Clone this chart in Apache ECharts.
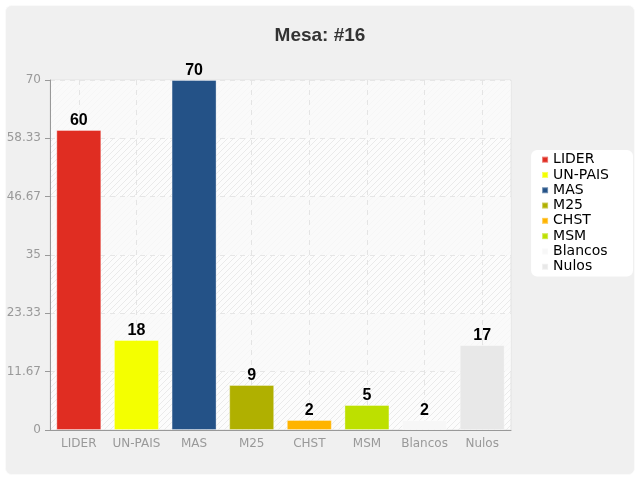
<!DOCTYPE html>
<html>
<head>
<meta charset="utf-8">
<script src="https://cdn.jsdelivr.net/npm/echarts@6/dist/echarts.min.js"></script>
<style>
html,body{margin:0;padding:0;background:#fff;}
#c{width:640px;height:480px;}
</style>
</head>
<body>
<div id="c"></div>
<script>
const categories = ['LIDER','UN-PAIS','MAS','M25','CHST','MSM','Blancos','Nulos'];
const values = [60, 18, 70, 9, 2, 5, 2, 17];
const colors = ['#e02d22','#f4ff00','#245287','#b0b000','#ffb400','#bde000','#f7f7f7','#e8e8e8'];
const yTicks = [0, 11.67, 23.33, 35, 46.67, 58.33, 70];

// hatch pattern for plot background
const pc = document.createElement('canvas');
pc.width = 6; pc.height = 6;
const g = pc.getContext('2d');
g.fillStyle = '#fcfcfc';
g.fillRect(0,0,6,6);
g.strokeStyle = 'rgba(0,0,0,0.07)';
g.lineWidth = 1;
g.beginPath();
g.moveTo(0,6); g.lineTo(6,0);
g.moveTo(-3,3); g.lineTo(3,-3);
g.moveTo(3,9); g.lineTo(9,3);
g.stroke();

const chart = echarts.init(document.getElementById('c'));
const series = categories.map((name, i) => ({
  name: name,
  type: 'bar',
  stack: 'all',
  barWidth: 45,
  itemStyle: {color: colors[i], borderColor: 'rgba(255,255,255,0.35)', borderWidth: 1},
  label: {show: true, position: 'top', distance: 1, color: '#000', fontWeight: 'bold', fontSize: 16, fontFamily: 'Liberation Sans'},
  data: categories.map((c, j) => j === i ? values[i] : '-')
}));

chart.setOption({
  animation: false,
  textStyle: {fontFamily: 'DejaVu Sans'},
  graphic: [{
    type: 'rect', z: -10, silent: true,
    shape: {x: 5.5, y: 5.5, width: 629, height: 469, r: 6},
    style: {fill: '#f0f0f0', stroke: '#fafafa', lineWidth: 1}
  }],
  title: {
    text: 'Mesa: #16', left: 'center', top: 21,
    textStyle: {fontSize: 19, fontWeight: 'bold', color: '#333', fontFamily: 'Liberation Sans'}
  },
  legend: {
    orient: 'vertical', right: 7, top: 150,
    backgroundColor: '#fff', borderRadius: 6,
    padding: [2, 24, 2, 10],
    itemWidth: 6, itemHeight: 6, itemGap: 0,
    icon: 'rect',
    textStyle: {fontSize: 14, color: '#000', lineHeight: 15.3, fontFamily: 'DejaVu Sans', padding: [0,0,0,0]},
    data: categories
  },
  grid: {
    left: 50, right: 129, top: 80, bottom: 50,
    show: true, backgroundColor: {image: pc, repeat: 'repeat'},
    borderColor: '#e2e2e2', borderWidth: 1
  },
  xAxis: {
    type: 'category', data: categories,
    axisLine: {lineStyle: {color: '#999'}},
    axisTick: {alignWithLabel: true, interval: 0, length: 5, lineStyle: {color: '#999'}},
    axisLabel: {color: '#999', fontSize: 12, margin: 8, interval: 0},
    splitLine: {show: true, interval: 0, alignWithLabel: true, lineStyle: {color: '#e4e4e4', type: [5, 5]}}
  },
  yAxis: {
    type: 'value', min: 0, max: 70, interval: 70 / 6,
    axisLine: {show: true, lineStyle: {color: '#999'}},
    axisTick: {show: true, length: 5, lineStyle: {color: '#999'}},
    axisLabel: {color: '#999', fontSize: 12, margin: 9,
      formatter: v => { const r = Math.round(v * 100) / 100; const f = yTicks.find(t => Math.abs(t - r) < 0.02); return String(f !== undefined ? f : r); }},
    splitLine: {show: true, lineStyle: {color: '#e6e6e6', type: [5, 5]}},
    splitArea: {show: true, areaStyle: {color: ['rgba(0,0,0,0)', 'rgba(250,250,250,0.75)']}}
  },
  series: series
});
</script>
</body>
</html>
